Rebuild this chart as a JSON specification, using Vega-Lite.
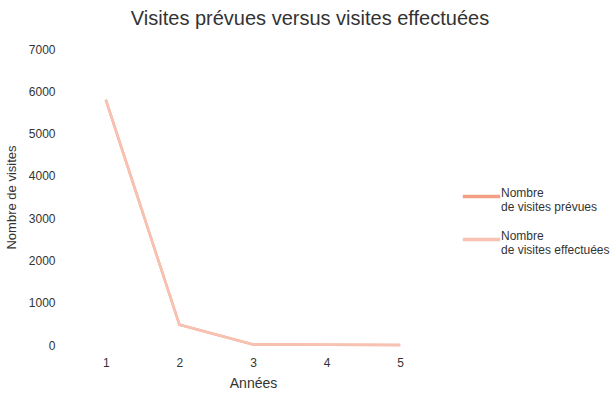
{
  "$schema": "https://vega.github.io/schema/vega-lite/v6.json",
  "width": 368,
  "height": 296,
  "padding": {"left": 69, "top": 49, "right": 179, "bottom": 57},
  "autosize": {"type": "none"},
  "background": "white",
  "config": {
    "font": "Liberation Sans",
    "view": {"stroke": null},
    "axis": {"labelColor": "#333", "titleColor": "#333", "labelFont": "Liberation Sans", "titleFont": "Liberation Sans", "titleFontWeight": "normal"}
  },
  "title": {"text": "Visites prévues versus visites effectuées", "fontSize": 20, "fontWeight": "normal", "color": "#333", "anchor": "middle", "dx": 57, "offset": 14, "font": "Liberation Sans"},
  "data": {"values": [
    {"annee": 1, "serie": "Nombre de visites prévues", "visites": 5800},
    {"annee": 2, "serie": "Nombre de visites prévues", "visites": 480},
    {"annee": 3, "serie": "Nombre de visites prévues", "visites": 10},
    {"annee": 4, "serie": "Nombre de visites prévues", "visites": 5},
    {"annee": 5, "serie": "Nombre de visites prévues", "visites": 0},
    {"annee": 1, "serie": "Nombre de visites effectuées", "visites": 5800},
    {"annee": 2, "serie": "Nombre de visites effectuées", "visites": 480},
    {"annee": 3, "serie": "Nombre de visites effectuées", "visites": 10},
    {"annee": 4, "serie": "Nombre de visites effectuées", "visites": 5},
    {"annee": 5, "serie": "Nombre de visites effectuées", "visites": 0}
  ]},
  "mark": {"type": "line", "strokeWidth": 2.5},
  "encoding": {
    "x": {"field": "annee", "type": "ordinal", "scale": {"type": "point", "padding": 0.5},
      "axis": {"title": "Années", "labelAngle": 0, "domain": false, "ticks": false, "grid": false, "labelFontSize": 12, "labelPadding": 12, "titleFontSize": 14, "titlePadding": 8}},
    "y": {"field": "visites", "type": "quantitative", "scale": {"domain": [0, 7000]},
      "axis": {"title": "Nombre de visites", "values": [0,1000,2000,3000,4000,5000,6000,7000], "format": "d", "domain": false, "ticks": false, "grid": false, "labelFontSize": 12, "labelPadding": 14, "titleFontSize": 13, "titlePadding": 10}},
    "color": {"field": "serie", "type": "nominal",
      "scale": {"domain": ["Nombre de visites prévues", "Nombre de visites effectuées"], "range": ["#f49e86", "#f8c2b2"]},
      "legend": {"title": null, "orient": "none", "legendX": 392, "legendY": 127, "symbolType": "stroke", "symbolSize": 1400, "symbolStrokeWidth": 3.5,
        "labelFontSize": 12, "labelColor": "#333", "labelBaseline": "alphabetic", "labelOffset": -1, "rowPadding": 6, "labelLimit": 200,
        "labelExpr": "datum.label == 'Nombre de visites prévues' ? ['Nombre', 'de visites prévues'] : ['Nombre', 'de visites effectuées']"}},
    "order": {"field": "serie"}
  }
}
